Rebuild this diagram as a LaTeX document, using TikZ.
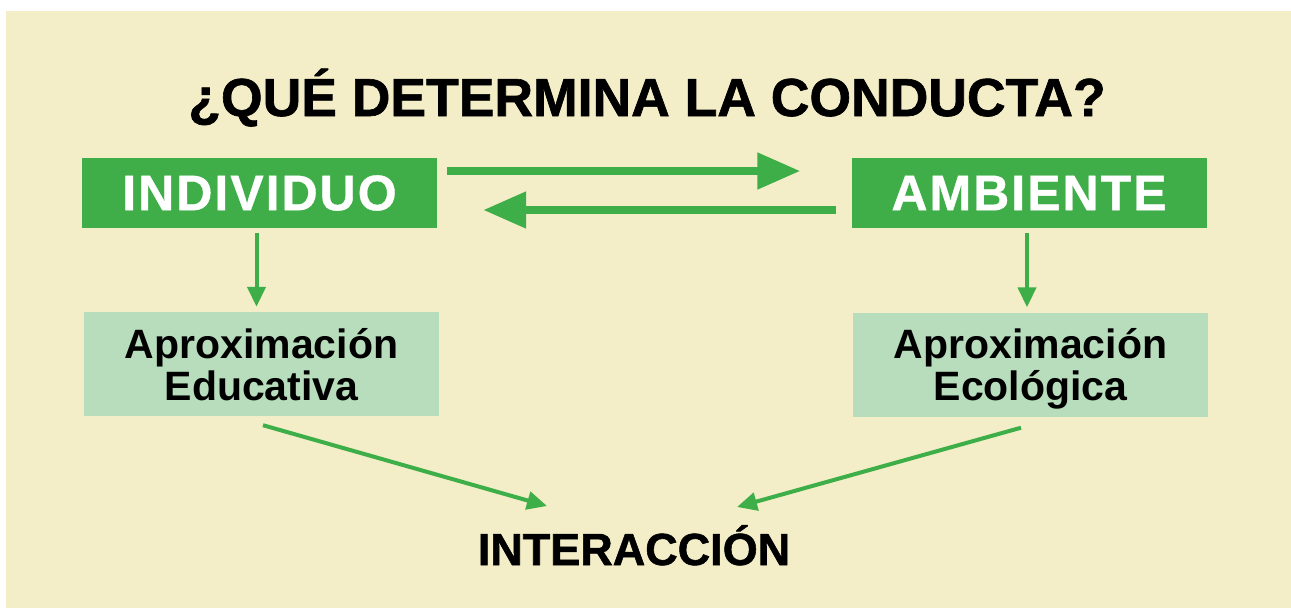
\documentclass[tikz,border=0pt]{standalone}
\usepackage{fontspec}
\setmainfont{Liberation Sans}
\newfontfamily\heavyfont[FakeBold=1.2]{Liberation Sans Bold}
\newfontfamily\boxfont[FakeBold=0.8,LetterSpace=4]{Liberation Sans Bold}
\usetikzlibrary{arrows.meta}
\definecolor{cream}{HTML}{F3EEC7}
\definecolor{dgreen}{HTML}{3FAE49}
\definecolor{lgreen}{HTML}{B8DDBD}
\definecolor{agreen}{HTML}{3DAE48}
\tikzset{
  mainbox/.style={fill=dgreen, draw=none, inner sep=0pt, minimum width=355pt, minimum height=70pt,
    text=white, font=\fontsize{50}{50}\selectfont\boxfont},
  approxbox/.style={fill=lgreen, draw=none, inner sep=0pt, minimum width=355pt, minimum height=104pt,
    text depth=0pt, text=black, align=center, font=\fontsize{41}{42}\selectfont\bfseries},
  bigarrow/.style={draw=agreen, line width=8pt, -{Triangle[length=43pt,width=35pt]}},
  smallarrow/.style={draw=agreen, line width=4pt, -{Triangle[length=20pt,width=18pt]}},
}
\begin{document}
\begin{tikzpicture}[x=1pt,y=-1pt]
\useasboundingbox (0,0) rectangle (1291,608);
\fill[white] (0,0) rectangle (1291,608);
\fill[cream] (6,11) rectangle (1291,608);
\node[anchor=base, font=\fontsize{53.5}{53.5}\selectfont\heavyfont] (title) at (647,116) {¿QUÉ DETERMINA LA CONDUCTA?};
\node[mainbox] (ind) at (259.5,193) {INDIVIDUO};
\node[mainbox] (amb) at (1029,193) {AMBIENTE};
\node[approxbox] (edu) at (261.5,364) {Aproximación\\Educativa};
\node[approxbox] (eco) at (1030.5,364.5) {Aproximación\\Ecológica};
\node[anchor=base, font=\fontsize{45}{45}\selectfont\heavyfont] (int) at (634,565) {INTERACCIÓN};
\draw[bigarrow] ([xshift=10pt,yshift=22pt]ind.east) -- ([xshift=-51pt,yshift=22pt]amb.west);
\draw[bigarrow] ([xshift=-15pt,yshift=-17pt]amb.west) -- ([xshift=46pt,yshift=-17pt]ind.east);
\draw[smallarrow] ([xshift=-3pt,yshift=-5pt]ind.south) -- ([xshift=-5pt,yshift=5pt]edu.north);
\draw[smallarrow] ([xshift=-2pt,yshift=-5pt]amb.south) -- ([xshift=-3.5pt,yshift=5pt]eco.north);
\draw[smallarrow] ([xshift=1.5pt,yshift=-9pt]edu.south) -- ([xshift=-87pt,yshift=59pt]int.base);
\draw[smallarrow] ([xshift=-9.5pt,yshift=-11pt]eco.south) -- ([xshift=103pt,yshift=58pt]int.base);
\end{tikzpicture}
\end{document}
